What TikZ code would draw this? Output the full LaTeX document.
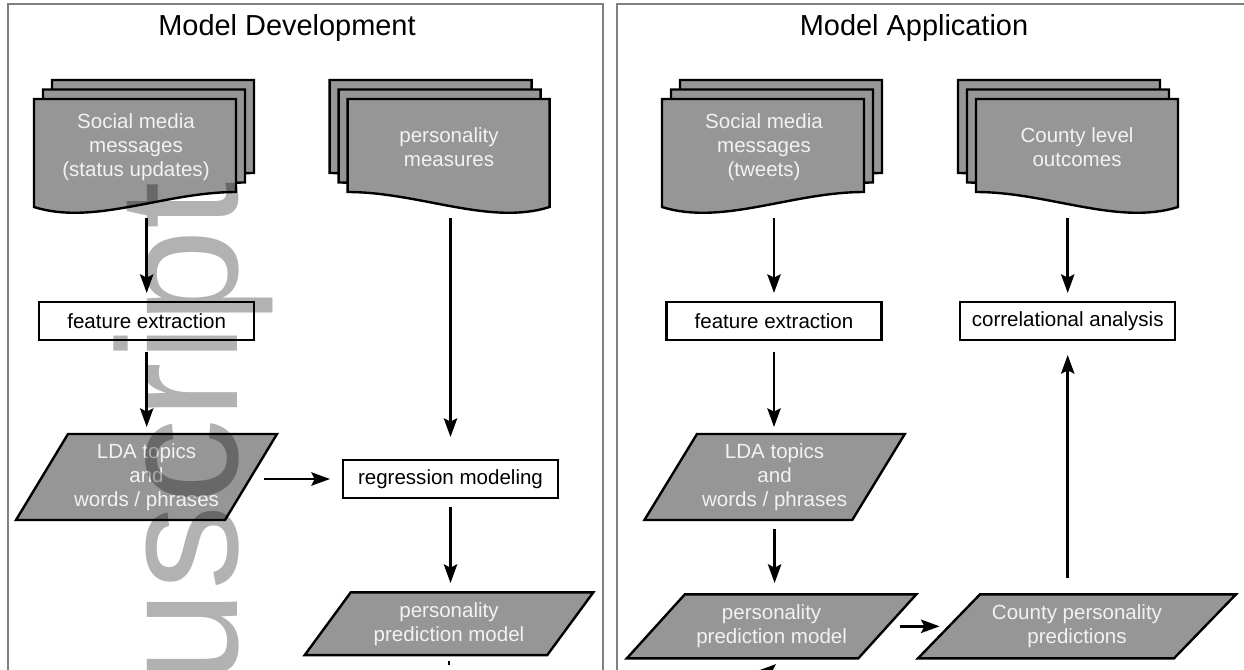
\documentclass[tikz,border=0pt]{standalone}
\usepackage{fontspec}
\setmainfont{Liberation Sans}
\usetikzlibrary{arrows.meta,backgrounds}
\definecolor{shapegray}{HTML}{969696}
\definecolor{panelgray}{HTML}{808080}
\definecolor{shapetext}{HTML}{F2F2F2}
\newcommand{\docsheet}[3]{%
  \begin{scope}[shift={(#1,#2)},xscale=#3]
    \filldraw[docfill] (0,0) -- (202,0) -- (202,93) .. controls (130,93) and (60,127) .. (0,108) -- cycle;
  \end{scope}}
\newcommand{\paral}[2]{%
  \filldraw[docfill] ([xshift=#2]#1.north west) -- ([xshift=#2]#1.north east) -- ([xshift=-#2]#1.south east) -- ([xshift=-#2]#1.south west) -- cycle;}
\begin{document}
\begin{tikzpicture}[x=0.75pt,y=-0.75pt,
  panel/.style={draw=panelgray,line width=1.6pt},
  titletext/.style={font=\fontsize{21.7}{26}\selectfont,inner sep=0},
  docfill/.style={fill=shapegray,draw=black,line width=1.8pt,line join=miter},
  doctext/.style={text=shapetext,align=center,font=\fontsize{15.4}{18}\selectfont,
    minimum width=151.5pt,minimum height=97.5pt,inner sep=0,outer sep=0},
  procbox/.style={draw=black,fill=white,line width=1.8pt,font=\fontsize{15.4}{18}\selectfont,
    minimum width=161.25pt,minimum height=28.5pt,inner sep=0,outer sep=0},
  paratext/.style={text=shapetext,align=center,font=\fontsize{15.4}{18}\selectfont,inner sep=0,outer sep=0},
  conn/.style={line width=1.9pt},
  arr/.style={line width=1.9pt,-{Stealth[length=14pt,width=10pt,inset=2.5pt]}},
  watermark/.style={rotate=90,anchor=base west,inner sep=0,outer sep=0,
    font=\fontsize{128}{128}\selectfont,text=black,text opacity=0.3}
]
\useasboundingbox (0,0) rectangle (1244,669);

% titles
\node[titletext] (t1) at (287,28) {Model Development};
\node[titletext] (t2) at (914,28) {Model Application};

% documents (stacked sheets)
\docsheet{52}{80}{1}\docsheet{43}{89.5}{1}\docsheet{34}{99}{1}
\docsheet{531.6}{80}{-1}\docsheet{540.6}{89.5}{-1}\docsheet{549.6}{99}{-1}
\docsheet{680}{80}{1}\docsheet{671}{89.5}{1}\docsheet{662}{99}{1}
\docsheet{1160}{80}{-1}\docsheet{1169}{89.5}{-1}\docsheet{1178}{99}{-1}

\node[doctext] (d1) at (136,147) {Social media\\messages\\(status updates)};
\node[doctext] (d2) at (449,147) {personality\\measures};
\node[doctext] (d3) at (764,147) {Social media\\messages\\(tweets)};
\node[doctext] (d4) at (1077,147) {County level\\outcomes};

% process boxes
\node[procbox] (fe1) at (146.7,321) {feature extraction};
\node[procbox] (reg) at (450.5,479) {regression modeling};
\node[procbox] (fe2) at (774,321) {feature extraction};
\node[procbox] (cor) at (1067.7,321) {correlational analysis};

% data (parallelograms)
\node[paratext,minimum width=156.75pt,minimum height=64.5pt] (lda1) at (146.5,477) {LDA topics\\and\\words / phrases};
\node[paratext,minimum width=155.85pt,minimum height=64.5pt] (lda2) at (774.6,477) {LDA topics\\and\\words / phrases};
\node[paratext,minimum width=181.9pt,minimum height=47pt] (ppm1) at (449,623.7) {personality\\prediction model};
\node[paratext,minimum width=173.6pt,minimum height=48pt] (ppm2) at (771.6,626.3) {personality\\prediction model};
\node[paratext,minimum width=192pt,minimum height=48pt] (cpp) at (1077,626.3) {County personality\\predictions};

\begin{scope}[on background layer]
  \draw[panel] (8,4) rectangle (603,690);
  \draw[panel] (617,4) rectangle (1260,690);
  \paral{lda1}{19.5pt}
  \paral{lda2}{19.7pt}
  \paral{ppm1}{17.25pt}
  \paral{ppm2}{21.75pt}
  \paral{cpp}{23.25pt}
\end{scope}

% connectors
\draw[arr,shorten <=4.5pt,shorten >=6.75pt] (d1.south -| fe1.north) -- (fe1.north);
\draw[arr,shorten <=9pt,shorten >=5.25pt] (fe1.south) -- (fe1.south |- lda1.north);
\draw[arr,shorten <=4.5pt,shorten >=17.25pt] (d2.south -| reg.north) -- (reg.north);
\draw[arr,shorten <=9.75pt,shorten >=9.75pt] (lda1.east |- reg.west) -- (reg.west);
\draw[arr,shorten <=6.5pt,shorten >=7pt] (reg.south) -- (reg.south |- ppm1.north);
\draw[arr,shorten <=4.5pt,shorten >=6.75pt] (d3.south -| fe2.north) -- (fe2.north);
\draw[arr,shorten <=9pt,shorten >=5.25pt] (fe2.south) -- (fe2.south |- lda2.north);
\draw[arr,shorten <=6.75pt,shorten >=8.5pt] (lda2.south) -- (lda2.south |- ppm2.north);
\draw[arr,shorten <=4.5pt,shorten >=6.75pt] (d4.south -| cor.north) -- (cor.north);
\draw[arr,shorten <=9.75pt,shorten >=7pt] (ppm2.east) -- (ppm2.east -| cpp.west);
\draw[arr,shorten <=12pt,shorten >=11.25pt] (cpp.north -| cor.south) -- (cor.south);

% connectors cut by the page edge
\coordinate (cut1) at (449,665);
\draw[conn,shorten <=4.5pt] (ppm1.south) -- (cut1);
\coordinate (cut2a) at (840,671);
\coordinate (cut2b) at (757,671);
\draw[arr] (cut2a) -- (cut2b);

% watermark
\node[watermark] (wm) at (237,685) {uscript};
\end{tikzpicture}
\end{document}
